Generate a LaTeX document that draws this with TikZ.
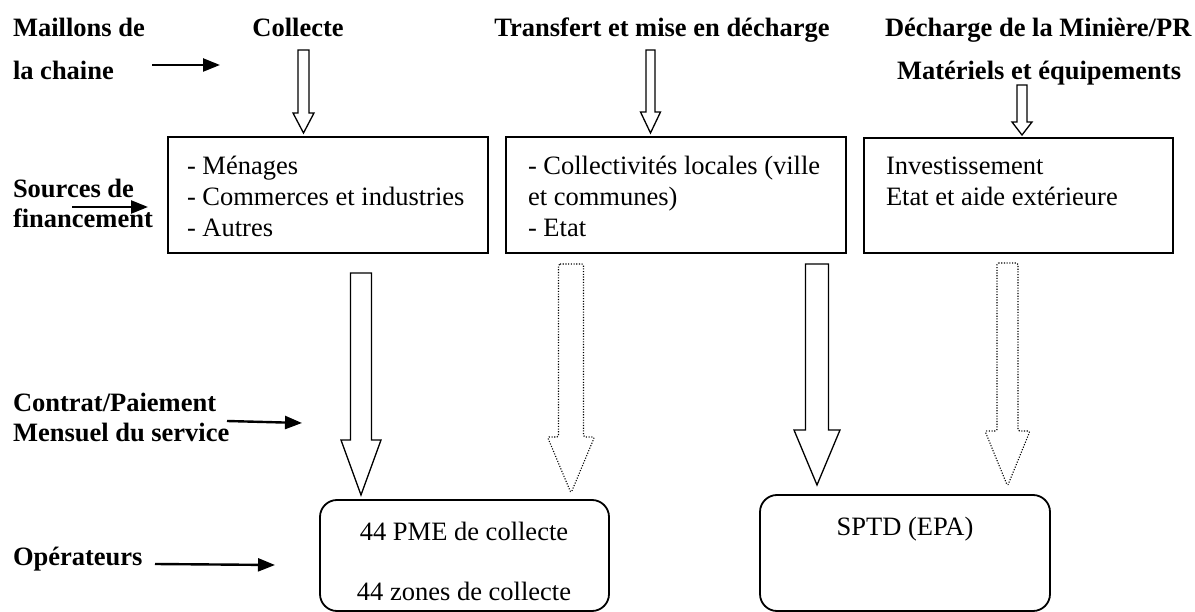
\documentclass[tikz,border=0pt]{standalone}
\usepackage{fontspec}
\setmainfont{Liberation Serif}
\usetikzlibrary{arrows.meta}
\newcommand{\blkarrow}[7][]{%
  \draw[blockline,#1] ({#2-#6},#3) -- ({#2+#6},#3) -- ({#2+#6},#4) -- ({#2+#7},#4)
    -- (#2,#5) -- ({#2-#7},#4) -- ({#2-#6},#4) -- cycle;}
\begin{document}
\begin{tikzpicture}[x=1pt,y=-1pt,
  every node/.style={inner sep=0pt,outer sep=0pt,font=\fontsize{26.5}{30.5}\selectfont},
  lbl/.style={anchor=base west,font=\fontsize{26.5}{30.5}\selectfont\bfseries},
  hdr/.style={anchor=base,font=\fontsize{26.5}{30.5}\selectfont\bfseries},
  txt/.style={anchor=base west},
  ctxt/.style={anchor=base},
  fbox/.style={draw,line width=1.8pt},
  rbox/.style={draw,line width=1.8pt,rounded corners=17pt},
  blockline/.style={draw,line width=1.3pt,line join=miter},
  dotline/.style={line width=1.1pt,dash pattern=on 1.1pt off 1.6pt,line join=round,rounded corners=1.5pt},
  pointer/.style={line width=2.4pt,-{Triangle[length=17pt,width=13pt]}}
]
\useasboundingbox (0,0) rectangle (1195,612);

% header labels
\node[lbl] (maillons) at (13,37) {Maillons de};
\node[lbl] (chaine) at (13,80) {la chaine};
\node[lbl] (sources) at (13,198) {Sources de};
\node[lbl] (financ) at (13,228) {financement};
\node[lbl] (contrat) at (13,412) {Contrat/Paiement};
\node[lbl] (mensuel) at (13,442) {Mensuel du service};
\node[lbl] (operateurs) at (13,565) {Opérateurs};

\node[hdr] (collecte) at (298,37) {Collecte};
\node[hdr] (transfert) at (662,37) {Transfert et mise en décharge};
\node[lbl] (decharge) at (885,37) {Décharge de la Minière/PR};
\node[lbl] (materiels) at (897,80) {Matériels et équipements};

% pointer arrows
\coordinate (p1a) at (152,65); \coordinate (p1b) at (220,65);
\coordinate (p2a) at (72,207); \coordinate (p2b) at (148,207);
\coordinate (p3a) at (227,421); \coordinate (p3b) at (302,423);
\coordinate (p4a) at (155,564); \coordinate (p4b) at (275,565);
\draw[pointer] (p1a) -- (p1b);
\draw[pointer] (p2a) -- (p2b);
\draw[pointer] (p3a) -- (p3b);
\draw[pointer] (p4a) -- (p4b);

% boxes
\node[fbox,minimum width=320pt,minimum height=116pt,anchor=north west] (box1) at (168,137) {};
\node[fbox,minimum width=340pt,minimum height=116pt,anchor=north west] (box2) at (506,137) {};
\node[fbox,minimum width=309pt,minimum height=115pt,anchor=north west] (box3) at (864,138) {};
\node[rbox,minimum width=289pt,minimum height=111pt,anchor=north west] (box4) at (320,500) {};
\node[rbox,minimum width=290pt,minimum height=116pt,anchor=north west] (box5) at (760,495) {};

% box texts
\node[txt] (t11) at (187,175) {- Ménages};
\node[txt] (t12) at (187,206) {- Commerces et industries};
\node[txt] (t13) at (187,237) {- Autres};
\node[txt] (t21) at (528,175) {- Collectivités locales (ville};
\node[txt] (t22) at (528,206) {et communes)};
\node[txt] (t23) at (528,237) {- Etat};
\node[txt] (t31) at (886,175) {Investissement};
\node[txt] (t32) at (886,206) {Etat et aide extérieure};
\node[ctxt] (t41) at (464,540) {44 PME de collecte};
\node[ctxt] (t42) at (464,600) {44 zones de collecte};
\node[ctxt] (t51) at (905,535) {SPTD (EPA)};

% block arrows: x, top, head top, tip, shaft half width, head half width
\blkarrow{303.5}{50}{113}{133}{5.5}{10.5}
\blkarrow{650.5}{50}{112}{133}{4.5}{10}
\blkarrow{1022}{85}{122}{135}{5}{10}
\blkarrow{361}{273}{440}{495}{10.5}{20}
\blkarrow[dotline]{571}{264}{437}{493}{12.5}{23.5}
\blkarrow{817}{264}{430}{485}{11.5}{23}
\blkarrow[dotline]{1007.5}{263}{431}{486}{10.5}{22.5}
\end{tikzpicture}
\end{document}
